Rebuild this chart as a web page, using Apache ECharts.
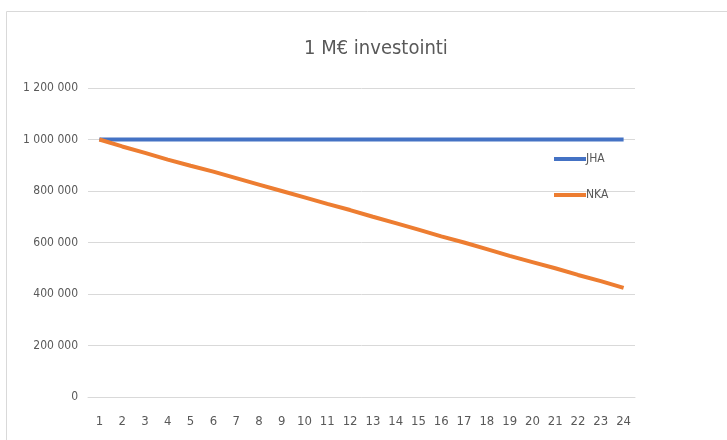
<!DOCTYPE html>
<html>
<head>
<meta charset="utf-8">
<script src="https://cdn.jsdelivr.net/npm/echarts@6/dist/echarts.min.js"></script>
<style>
  html, body { margin: 0; padding: 0; background: #fff; }
  #chart { width: 727px; height: 440px; }
</style>
</head>
<body>
<div id="chart"></div>
<script>
// vuodet 1..24
const vuodet = ['1','2','3','4','5','6','7','8','9','10','11','12','13','14','15','16','17','18','19','20','21','22','23','24'];
// JHA pysyy samana
const jha = [1000000,1000000,1000000,1000000,1000000,1000000,1000000,1000000,1000000,1000000,1000000,1000000,
             1000000,1000000,1000000,1000000,1000000,1000000,1000000,1000000,1000000,1000000,1000000,1000000];
// NKA laskee
const nka = [1000000,973000,948000,922000,898000,875000,850000,825000,800000,775000,750000,726000,
             700000,675000,650000,624000,600000,574000,548000,524000,500000,474000,450000,424000];

const fontFam = "'DejaVu Sans Condensed', 'Liberation Sans', sans-serif";

function muotoile(v) {
  // välilyönti tuhaterottimena
  return String(v).replace(/\B(?=(\d{3})+(?!\d))/g, ' ');
}

const myChart = echarts.init(document.getElementById('chart'));
myChart.setOption({
  animation: false,
  textStyle: { fontFamily: fontFam },
  graphic: [{
    type: 'rect',
    shape: { x: 6.5, y: 11.5, width: 800, height: 500 },
    style: { fill: 'none', stroke: '#d9d9d9', lineWidth: 1 }
  }],
  title: {
    text: '1 M€ investointi',
    left: 299,
    top: 34,
    textStyle: { fontFamily: fontFam, fontSize: 20, fontWeight: 'normal', color: '#595959' }
  },
  legend: {
    orient: 'vertical',
    left: 549,
    top: 148,
    itemGap: 24,
    itemWidth: 32,
    itemHeight: 4,
    icon: 'rect',
    textStyle: { fontFamily: fontFam, fontSize: 12, color: '#595959', padding: [0, 0, 0, -5] },
    data: ['JHA', 'NKA']
  },
  grid: { left: 88, right: 92, top: 88, bottom: 43 },
  xAxis: {
    type: 'category',
    data: vuodet,
    boundaryGap: true,
    axisLine: { lineStyle: { color: '#d9d9d9', width: 1 } },
    axisTick: { show: false },
    axisLabel: { color: '#595959', fontSize: 13, margin: 18, interval: 0 }
  },
  yAxis: {
    type: 'value',
    min: 0,
    max: 1200000,
    interval: 200000,
    axisLine: { show: false },
    axisTick: { show: false },
    splitLine: { lineStyle: { color: '#d9d9d9', width: 1 } },
    axisLabel: { color: '#595959', fontSize: 12, margin: 10, formatter: muotoile }
  },
  series: [
    {
      name: 'JHA',
      type: 'line',
      data: jha,
      symbol: 'none',
      lineStyle: { color: '#4472C4', width: 4 },
      itemStyle: { color: '#4472C4' }
    },
    {
      name: 'NKA',
      type: 'line',
      data: nka,
      symbol: 'none',
      lineStyle: { color: '#ED7D31', width: 4 },
      itemStyle: { color: '#ED7D31' }
    }
  ]
});
</script>
</body>
</html>
